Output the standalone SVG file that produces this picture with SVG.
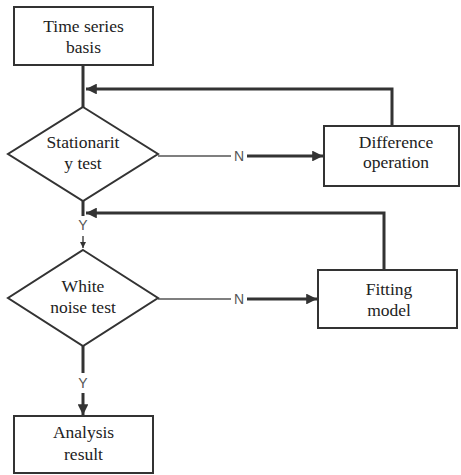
<svg xmlns="http://www.w3.org/2000/svg" width="461" height="475" viewBox="0 0 461 475">
  <defs>
    <marker id="arrow" viewBox="0 0 10 10" refX="10" refY="5" markerWidth="5" markerHeight="3.6" orient="auto" markerUnits="strokeWidth">
      <path d="M0,0 L10,5 L0,10 z" fill="#333"/>
    </marker>
    <marker id="arrowSmall" viewBox="0 0 10 10" refX="10" refY="5" markerWidth="4" markerHeight="5" orient="auto" markerUnits="strokeWidth">
      <path d="M0,0 L10,5 L0,10 z" fill="#333"/>
    </marker>
  </defs>
  <style>
    .box { fill: #fff; stroke: #333; stroke-width: 2; }
    .lbl { font-family: "Liberation Serif", "DejaVu Serif", serif; font-size: 17.5px; fill: #222; text-anchor: middle; }
    .yn { font-family: "Liberation Sans", "DejaVu Sans", sans-serif; font-size: 14px; fill: #555; text-anchor: middle; }
    .ln { fill: none; stroke: #333; stroke-width: 3; }
    .thin { fill: none; stroke: #555; stroke-width: 1.6; }
  </style>
  <rect width="461" height="475" fill="#fff"/>

  <g id="connectors">
    <!-- main spine -->
    <line class="ln" x1="83" y1="65" x2="83" y2="107"/>
    <line class="ln" x1="83" y1="201" x2="83" y2="216"/>
    <line class="thin" x1="83" y1="236" x2="83" y2="248" marker-end="url(#arrowSmall)"/>
    <line class="ln" x1="83" y1="345" x2="83" y2="373"/>
    <line class="ln" x1="83" y1="393" x2="83" y2="415" marker-end="url(#arrow)"/>
    <text class="yn" x="83" y="230">Y</text>
    <text class="yn" x="83" y="388">Y</text>

    <!-- stationarity: N branch -->
    <line class="thin" x1="158" y1="156" x2="231" y2="156"/>
    <text class="yn" x="239" y="161">N</text>
    <line class="ln" x1="247" y1="156" x2="323" y2="156" marker-end="url(#arrow)"/>
    <!-- difference feedback -->
    <polyline class="ln" points="392,125 392,89 86,89" marker-end="url(#arrow)"/>

    <!-- white noise: N branch -->
    <line class="thin" x1="158" y1="299" x2="231" y2="299"/>
    <text class="yn" x="239" y="304">N</text>
    <line class="ln" x1="247" y1="299" x2="317" y2="299" marker-end="url(#arrow)"/>
    <!-- fitting feedback -->
    <polyline class="ln" points="384,270 384,213 86,213" marker-end="url(#arrow)"/>
  </g>

  <g id="time-series-basis">
    <rect class="box" x="14" y="7" width="139" height="58"/>
    <text class="lbl" x="83.5" y="32">Time series</text>
    <text class="lbl" x="83.5" y="53">basis</text>
  </g>

  <g id="stationarity-test">
    <polygon class="box" points="83,107 158,154 83,201 8,154"/>
    <text class="lbl" x="83" y="148">Stationarit</text>
    <text class="lbl" x="83" y="169">y test</text>
  </g>

  <g id="difference-operation">
    <rect class="box" x="324" y="126" width="135" height="60"/>
    <text class="lbl" x="396" y="148">Difference</text>
    <text class="lbl" x="396" y="168">operation</text>
  </g>

  <g id="white-noise-test">
    <polygon class="box" points="83,250 158,298 83,346 8,298"/>
    <text class="lbl" x="83" y="292">White</text>
    <text class="lbl" x="83" y="313">noise test</text>
  </g>

  <g id="fitting-model">
    <rect class="box" x="318" y="270" width="139" height="58"/>
    <text class="lbl" x="389" y="295">Fitting</text>
    <text class="lbl" x="389" y="316">model</text>
  </g>

  <g id="analysis-result">
    <rect class="box" x="14" y="416" width="139" height="57"/>
    <text class="lbl" x="83.5" y="438">Analysis</text>
    <text class="lbl" x="83.5" y="460">result</text>
  </g>
</svg>
